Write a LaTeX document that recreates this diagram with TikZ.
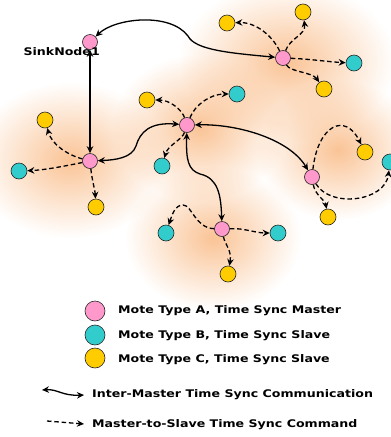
\documentclass[tikz,border=0pt]{standalone}
\usepackage{fontspec}
\setmainfont{DejaVu Sans}
\newfontfamily\labelfont[FakeStretch=1.2]{DejaVu Sans}
\usetikzlibrary{arrows.meta,fadings}

\definecolor{masterpink}{RGB}{255,153,204}
\definecolor{slavecyan}{RGB}{51,204,204}
\definecolor{slaveyellow}{RGB}{255,204,0}
\definecolor{glow}{RGB}{248,170,105}

% soft radial fade used for the orange halo around each cluster
\tikzfading[name=halo, inner color=transparent!30, outer color=transparent!100]

\begin{document}
\begin{tikzpicture}[x=1pt,y=-1pt,
  mote/.style={circle, draw=black!85, line width=0.6pt, inner sep=0pt},
  master/.style={mote, fill=masterpink, minimum size=15pt},
  slaveB/.style={mote, fill=slavecyan, minimum size=16pt},
  slaveC/.style={mote, fill=slaveyellow, minimum size=16pt},
  legmote/.style={mote, minimum size=20pt},
  tip/.tip={Stealth[length=7pt,width=6.5pt]},
  inter/.style={line width=1.3pt, tip-tip},
  cmd/.style={line width=1.3pt, dash pattern=on 4.5pt off 2.8pt, -tip},
  txt/.style={font=\labelfont\fontsize{10.5}{12}\selectfont\bfseries, inner sep=0pt, anchor=west},
  halofill/.style={fill=glow, path fading=halo}
]
\useasboundingbox (0,0) rectangle (391,437);

% halos
\fill[halofill] (287,62) ellipse (108 and 80);
\fill[halofill] (200,128) ellipse (88 and 74);
\fill[halofill] (70,160) ellipse (98 and 78);
\fill[halofill] (338,150) ellipse (82 and 70);
\fill[halofill] (213,238) ellipse (88 and 72);

% masters
\node[master] (sink) at (90,42) {};
\node[master] (m2) at (283,58) {};
\node[master] (m3) at (187,125) {};
\node[master] (m4) at (90,161) {};
\node[master] (m5) at (312,177) {};
\node[master] (m6) at (222,229) {};

% slaves
\node[slaveC] (y21) at (227,23) {};
\node[slaveC] (y22) at (303,12) {};
\node[slaveB] (c21) at (354,63) {};
\node[slaveC] (y23) at (324,89) {};
\node[slaveC] (y31) at (147,100) {};
\node[slaveB] (c31) at (237,94) {};
\node[slaveB] (c32) at (162,166) {};
\node[slaveC] (y41) at (45,120) {};
\node[slaveB] (c41) at (19,171) {};
\node[slaveC] (y42) at (96,207) {};
\node[slaveC] (y51) at (365,152) {};
\node[slaveB] (c51) at (390,162) {};
\node[slaveC] (y52) at (328,217) {};
\node[slaveB] (c61) at (166,233) {};
\node[slaveB] (c62) at (278,233) {};
\node[slaveC] (y61) at (228,274) {};

% inter-master links
\draw[inter] (sink) .. controls (115,18) and (170,12) .. (188,36)
  .. controls (195,50) and (230,53) .. (m2);
\draw[inter] (sink) -- (m4);
\draw[inter] (m3) .. controls (150,122) and (140,132) .. (136,146)
  .. controls (132,158) and (115,160) .. (m4);
\draw[inter] (m3) .. controls (186,160) and (188,170) .. (200,174)
  .. controls (218,178) and (221,195) .. (m6);
\draw[inter] (m3) .. controls (240,124) and (290,140) .. (m5);

% master-to-slave commands
\draw[cmd] (m2) .. controls (272,35) and (255,22) .. (y21);
\draw[cmd] (m2) .. controls (290,38) and (306,35) .. (y22);
\draw[cmd] (m2) .. controls (310,59) and (330,62) .. (c21);
\draw[cmd] (m2) .. controls (290,72) and (312,72) .. (y23);

\draw[cmd] (m3) .. controls (182,110) and (170,100) .. (y31);
\draw[cmd] (m3) .. controls (195,105) and (210,94) .. (c31);
\draw[cmd] (m3) .. controls (182,140) and (168,145) .. (c32);

\draw[cmd] (m4) .. controls (68,155) and (52,145) .. (y41);
\draw[cmd] (m4) .. controls (65,166) and (45,170) .. (c41);
\draw[cmd] (m4) .. controls (92,180) and (95,190) .. (y42);

\draw[cmd] (m5) .. controls (318,125) and (345,112) .. (y51);
\draw[cmd] (m5) .. controls (330,208) and (385,202) .. (c51);
\draw[cmd] (m5) .. controls (315,195) and (325,200) .. (y52);

\draw[cmd] (m6) .. controls (195,228) and (192,205) .. (183,205)
  .. controls (175,205) and (172,215) .. (c61);
\draw[cmd] (m6) .. controls (245,228) and (255,233) .. (c62);
\draw[cmd] (m6) .. controls (225,245) and (232,250) .. (y61);

% sink label
\node[txt, anchor=east] (sinklbl) at (100,52) {SinkNode1};

% legend
\node[legmote, fill=masterpink] (lA) at (95,311) {};
\node[legmote, fill=slavecyan] (lB) at (95,335) {};
\node[legmote, fill=slaveyellow] (lC) at (95,358) {};
\node[txt] (tA) at (118,311) {Mote Type A, Time Sync Master};
\node[txt] (tB) at (118,336) {Mote Type B, Time Sync Slave};
\node[txt] (tC) at (118,360) {Mote Type C, Time Sync Slave};

\coordinate (la1) at (42,390);
\coordinate (la2) at (84,395);
\draw[inter] (la1) .. controls (58,389) and (62,396) .. (la2);
\node[txt] (tI) at (92,395) {Inter-Master Time Sync Communication};

\coordinate (lb1) at (47,421);
\coordinate (lb2) at (84,424);
\draw[cmd] (lb1) -- (lb2);
\node[txt] (tM) at (92,425) {Master-to-Slave Time Sync Command};
\end{tikzpicture}
\end{document}
